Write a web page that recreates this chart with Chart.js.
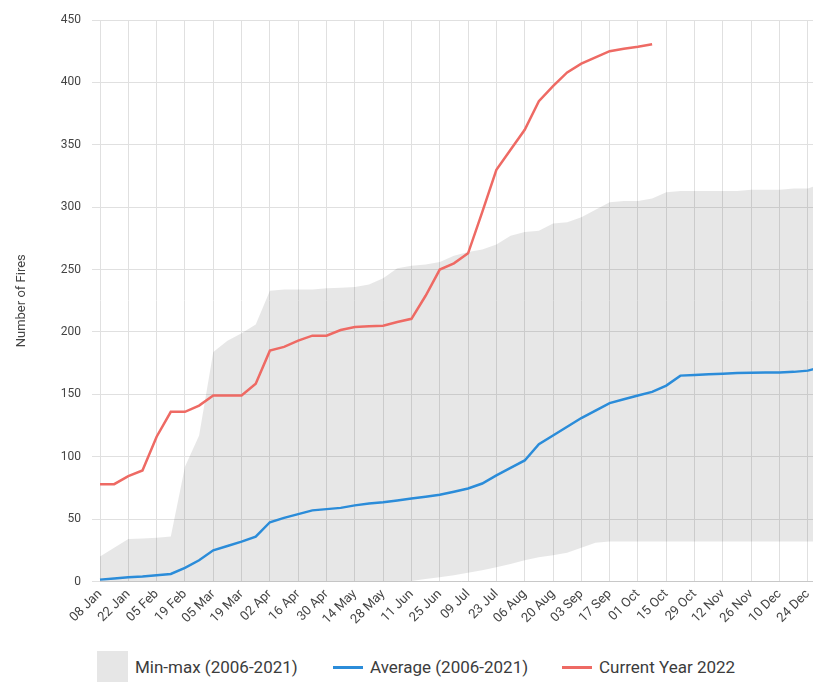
<!DOCTYPE html>
<html>
<head>
<meta charset="utf-8">
<script src="https://cdn.jsdelivr.net/npm/chart.js@4/dist/chart.umd.min.js"></script>
<style>
  html, body { margin: 0; padding: 0; background: #fff; overflow: hidden; }
  #wrap { position: relative; width: 813px; height: 687px; overflow: hidden; }
  #c { position: absolute; left: 0; top: 0; }
  .lg { position: absolute; font-family: Roboto, sans-serif; font-size: 17px; color: #3c3c3c; line-height: 20px; white-space: nowrap; }
  .sw { position: absolute; }
</style>
</head>
<body>
<div id="wrap">
  <canvas id="c" width="822" height="642"></canvas>
  <div id="legend"></div>
</div>
<script>
// Weekly dates (every week; only every second one is labelled)
const weeks = [
  "08 Jan", "15 Jan", "22 Jan", "29 Jan", "05 Feb", "12 Feb", "19 Feb", "26 Feb",
  "05 Mar", "12 Mar", "19 Mar", "26 Mar", "02 Apr", "09 Apr", "16 Apr", "23 Apr",
  "30 Apr", "07 May", "14 May", "21 May", "28 May", "04 Jun", "11 Jun", "18 Jun",
  "25 Jun", "02 Jul", "09 Jul", "16 Jul", "23 Jul", "30 Jul", "06 Aug", "13 Aug",
  "20 Aug", "27 Aug", "03 Sep", "10 Sep", "17 Sep", "24 Sep", "01 Oct", "08 Oct",
  "15 Oct", "22 Oct", "29 Oct", "05 Nov", "12 Nov", "19 Nov", "26 Nov", "03 Dec",
  "10 Dec", "17 Dec", "24 Dec", "31 Dec"
];

// Min-max band (2006-2021)
const minValues = [
  0, 0, 0, 0, 0, 0, 0, 0, 0, 0, 0, 0, 0, 0, 0, 0,
  0, 0, 0, 0, 0, 0, 0.5, 2, 3.5, 5, 7, 9, 11.5, 14, 17, 19.5,
  21, 23, 27, 31, 32, 32, 32, 32, 32, 32, 32, 32, 32, 32, 32, 32,
  32, 32, 32, 32
];
const maxValues = [
  20, 27, 34, 34.5, 35, 36, 92, 117, 184, 193, 199, 206, 233, 234, 234, 234,
  235, 235.5, 236, 238, 243, 251, 253, 254, 256, 261, 264, 266, 270, 277, 280, 281,
  287, 288, 292, 298, 304, 305, 305, 307, 312, 313, 313, 313, 313, 313, 314, 314,
  314, 315, 315, 319
];

// Average (2006-2021)
const avgValues = [
  1.5, 2.5, 3.5, 4, 5, 6, 11, 17, 25, 28.5, 32, 36, 47.5, 51, 54, 57,
  58, 59, 61, 62.5, 63.5, 65, 66.5, 68, 69.5, 72, 74.5, 78.5, 85, 91, 97, 110,
  117, 124, 131, 137, 143, 146, 149, 152, 157, 165, 165.5, 166, 166.5, 167, 167.3, 167.4,
  167.5, 168, 169, 172
];

// Current year 2022 (up to 08 Oct)
const currentValues = [
  78, 78, 84.5, 89, 116, 136, 136, 141, 149, 149, 149, 158.5, 185, 188, 193, 197,
  197, 201.5, 204, 204.5, 205, 208, 210.5, 229, 250, 255, 263, 296, 330, 346, 362, 385,
  397, 408, 415, 420, 425, 427, 428.5, 430.5
];

const yTicks = [0, 50, 100, 150, 200, 250, 300, 350, 400, 450];

const seriesNames = ["Min-max (2006-2021)", "Average (2006-2021)", "Current Year 2022"];
const bandColor = "rgba(0,0,0,0.095)";
const avgColor = "#2b8cd9";
const curColor = "#ee6a64";
const tickColor = "#444";

const chart = new Chart(document.getElementById("c"), {
  type: "line",
  data: {
    labels: weeks,
    datasets: [
      {
        label: seriesNames[2],
        data: currentValues,
        borderColor: curColor,
        borderWidth: 2.5,
        pointRadius: 0,
        tension: 0,
        fill: false,
        order: 0,
      },
      {
        label: seriesNames[1],
        data: avgValues,
        borderColor: avgColor,
        borderWidth: 2.5,
        pointRadius: 0,
        tension: 0,
        fill: false,
        order: 1,
      },
      {
        label: seriesNames[0],
        data: maxValues,
        borderWidth: 0,
        borderColor: "transparent",
        backgroundColor: bandColor,
        pointRadius: 0,
        tension: 0,
        fill: 3,
        order: 2,
      },
      {
        label: "min",
        data: minValues,
        borderWidth: 0,
        borderColor: "transparent",
        pointRadius: 0,
        tension: 0,
        fill: false,
        order: 3,
      },
    ],
  },
  options: {
    responsive: false,
    animation: false,
    layout: { padding: { top: 20, left: 0, right: 0, bottom: 0 } },
    plugins: {
      legend: { display: false },
      tooltip: { enabled: false },
    },
    scales: {
      x: {
        offset: false,
        grid: { color: "#e0e0e0", drawTicks: false, lineWidth: 1 },
        border: { color: "#c8c8c8", width: 1 },
        ticks: {
          autoSkip: false,
          maxRotation: 45,
          minRotation: 45,
          padding: 5,
          color: tickColor,
          font: { family: "Roboto, sans-serif", size: 13 },
          callback: (v, i) => (i % 2 === 0 ? weeks[i] : null),
        },
        afterFit: (s) => {
          s.height = 642 - 581.5;
          s.paddingLeft = 0;
          s.paddingRight = 0;
        },
      },
      y: {
        min: 0,
        max: 450,
        afterBuildTicks: (s) => { s.ticks = yTicks.map((v) => ({ value: v })); },
        grid: { color: "#e0e0e0", tickLength: 8 },
        border: { display: false },
        ticks: {
          padding: 11,
          color: tickColor,
          font: { family: "Roboto, sans-serif", size: 12 },
        },
        title: {
          display: true,
          text: "Number of Fires",
          color: "#444",
          font: { family: "Roboto, sans-serif", size: 13 },
          padding: { top: 14, bottom: 0 },
        },
        afterFit: (s) => {
          s.width = 100;
          s.paddingTop = 0;
          s.paddingBottom = 0;
        },
      },
    },
  },
});

// HTML legend built from the series names and colours
const legend = document.getElementById("legend");
const items = [
  { name: seriesNames[0], kind: "box", color: "#e6e6e6", sx: 97, tx: 135 },
  { name: seriesNames[1], kind: "line", color: avgColor, sx: 333, tx: 370 },
  { name: seriesNames[2], kind: "line", color: curColor, sx: 562, tx: 599 },
];
items.forEach((it) => {
  const sw = document.createElement("div");
  sw.className = "sw";
  if (it.kind === "box") {
    Object.assign(sw.style, { left: it.sx + "px", top: "651px", width: "31px", height: "31px", background: it.color });
  } else {
    Object.assign(sw.style, { left: it.sx + "px", top: "666px", width: "30px", height: "3px", background: it.color });
  }
  legend.appendChild(sw);
  const t = document.createElement("div");
  t.className = "lg";
  t.textContent = it.name;
  Object.assign(t.style, { left: it.tx + "px", top: "657px" });
  legend.appendChild(t);
});
</script>
</body>
</html>
